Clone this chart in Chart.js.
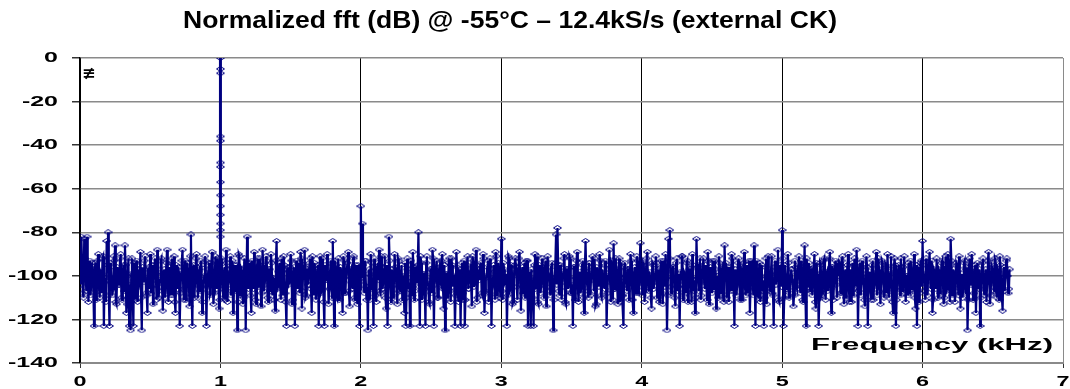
<!DOCTYPE html>
<html>
<head>
<meta charset="utf-8">
<script src="https://cdn.jsdelivr.net/npm/chart.js@4.4.0/dist/chart.umd.min.js"></script>
<style>
  body { margin: 0; background: #fff; }
  canvas { display: block; }
</style>
</head>
<body>
<canvas id="fftChart" width="1070" height="389"></canvas>
<script>
// FFT normalisé à -55°C, 12.4kS/s, horloge externe

const chartTitle = 'Normalized fft (dB) @ -55°C – 12.4kS/s (external CK)';
const xAxisLabel = 'Frequency (kHz)';

// pas des bins (kHz) du spectre de bruit
const binKHz = 0.01;

// niveau de chaque bin (dB)
const noiseDb = [
  -95, -82, -108, -83, -100, -82, -112, -93, -104, -97,
  -123, -94, -106, -90, -110, -99, -92, -123, -101, -84,
  -80, -123, -96, -109, -91, -86, -113, -98, -104, -90,
  -111, -95, -86, -117, -100, -123, -125, -92, -123, -102,
  -94, -112, -97, -89, -125, -101, -93, -108, -117, -96,
  -90, -105, -113, -95, -99, -88, -110, -102, -92, -116,
  -97, -107, -88, -112, -100, -94, -109, -91, -117, -103,
  -96, -123, -99, -88, -111, -93, -106, -98, -114, -81,
  -123, -95, -102, -90, -110, -97, -93, -117, -104, -91,
  -123, -100, -94, -108, -89, -113, -98, -104, -92, -115,
  -101, -93, -110, -96, -88, -112, -99, -91, -107, -117,
  -95, -103, -125, -90, -109, -97, -113, -92, -125, -82,
  -106, -94, -117, -99, -89, -111, -96, -104, -92, -114,
  -88, -107, -100, -93, -112, -97, -90, -109, -102, -116,
  -84, -105, -94, -111, -98, -91, -108, -123, -96, -103,
  -90, -113, -99, -123, -93, -106, -101, -89, -115, -95,
  -88, -109, -97, -104, -92, -117, -100, -94, -111, -98,
  -123, -91, -107, -96, -123, -102, -90, -113, -99, -105,
  -84, -123, -95, -110, -92, -104, -98, -117, -93, -108,
  -100, -89, -114, -97, -106, -91, -111, -99, -95, -123,
  -68, -76, -104, -93, -111, -125, -97, -90, -106, -123,
  -99, -112, -94, -88, -108, -96, -102, -91, -115, -123,
  -82, -105, -97, -110, -90, -101, -113, -93, -107, -95,
  -100, -117, -123, -92, -106, -123, -98, -89, -111, -96,
  -103, -80, -123, -94, -109, -99, -123, -91, -105, -113,
  -97, -88, -123, -101, -93, -110, -96, -104, -90, -115,
  -125, -99, -107, -92, -112, -95, -102, -123, -89, -108,
  -98, -123, -94, -111, -123, -100, -91, -106, -97, -114,
  -93, -103, -88, -110, -99, -95, -108, -90, -117, -101,
  -96, -112, -92, -123, -104, -98, -89, -109, -94, -106,
  -83, -111, -97, -102, -123, -91, -107, -95, -113, -100,
  -92, -105, -99, -89, -116, -96, -103, -110, -93, -123,
  -98, -123, -106, -123, -90, -101, -112, -95, -108, -92,
  -104, -97, -114, -91, -100, -109, -94, -125, -102, -81,
  -78, -107, -95, -111, -99, -90, -113, -97, -104, -92,
  -108, -123, -96, -101, -89, -112, -98, -105, -93, -117,
  -84, -103, -110, -94, -99, -91, -107, -114, -96, -102,
  -90, -109, -97, -104, -93, -123, -100, -88, -112, -95,
  -85, -106, -98, -113, -92, -101, -109, -123, -94, -104,
  -97, -111, -90, -103, -117, -96, -108, -93, -100, -85,
  -105, -94, -112, -98, -89, -107, -101, -115, -95, -103,
  -91, -110, -97, -106, -93, -113, -99, -90, -125, -83,
  -79, -108, -96, -102, -114, -92, -105, -123, -98, -91,
  -109, -100, -94, -112, -97, -104, -90, -107, -117, -83,
  -101, -95, -111, -98, -92, -106, -103, -89, -113, -96,
  -108, -99, -93, -115, -100, -91, -105, -97, -110, -86,
  -94, -102, -112, -96, -90, -107, -123, -99, -104, -92,
  -111, -97, -101, -89, -109, -95, -106, -117, -93, -103,
  -86, -123, -98, -110, -94, -100, -107, -123, -96, -113,
  -91, -104, -99, -108, -123, -93, -101, -88, -112, -97,
  -79, -123, -95, -106, -90, -110, -102, -97, -114, -93,
  -105, -99, -91, -108, -96, -112, -86, -123, -100, -94,
  -107, -97, -103, -90, -115, -99, -123, -94, -109, -101,
  -92, -111, -98, -105, -89, -117, -96, -102, -93, -110,
  -100, -95, -108, -91, -113, -97, -104, -90, -112, -99,
  -94, -106, -101, -88, -123, -96, -109, -93, -103, -114,
  -91, -123, -98, -107, -95, -111, -100, -89, -105, -97,
  -113, -93, -102, -108, -96, -90, -110, -99, -104, -117,
  -92, -123, -101, -95, -109, -98, -106, -91, -112, -100,
  -94, -107, -97, -103, -90, -115, -123, -96, -108, -93,
  -84, -102, -111, -95, -99, -89, -106, -117, -97, -104,
  -92, -110, -98, -101, -93, -113, -96, -107, -90, -103,
  -83, -109, -97, -112, -94, -100, -91, -115, -99, -105,
  -93, -108, -125, -96, -102, -90, -111, -98, -117, -94,
  -106, -123, -100, -92, -109, -97, -103, -89, -113, -95,
  -101, -107, -93, -110, -98, -91, -104, -116, -96, -100,
  -92, -108, -97
];

// bins intermédiaires (entre deux bins de noiseDb), dB
const noiseMidDb = [
  -104, -96, -110, -92, -107, -95, -100, -109, -94, -106,
  -97, -111, -93, -105, -98, -108, -91, -103, -112, -95,
  -109, -94, -101, -106, -93, -112, -96, -104, -92, -110,
  -98, -107, -95, -113, -92, -104, -99, -108, -94, -111,
  -93, -105, -100, -110, -96, -103, -91, -109, -97, -106,
  -108, -95, -102, -92, -111, -97, -105, -93, -107, -99,
  -110, -94, -104, -96, -109, -92, -101, -112, -95, -106,
  -99, -108, -93, -106, -97, -111, -94, -103, -91, -109,
  -96, -110, -92, -104, -98, -107, -95, -112, -100, -93,
  -105, -97, -109, -94, -102, -108, -91, -106, -96, -111,
  -92, -106, -99, -111, -94, -103, -97, -109, -93, -105,
  -107, -95, -112, -91, -104, -98, -110, -96, -102, -94,
  -100, -109, -93, -106, -96, -113, -92, -105, -99, -108,
  -95, -104, -91, -110, -97, -107, -94, -101, -111, -93,
  -106, -98, -103, -92, -109, -95, -112, -97, -104, -96,
  -93, -111, -96, -105, -100, -94, -108, -92, -107, -99,
  -110, -97, -104, -94, -106, -91, -109, -98, -103, -95,
  -96, -108, -92, -112, -95, -102, -99, -106, -93, -110,
  -104, -93, -109, -97, -111, -96, -105, -91, -108, -100,
  -94, -107, -98, -103, -92, -110, -95, -113, -97, -106,
  -101, -95, -108, -93, -105, -99, -111, -94, -104, -92,
  -109, -96, -102, -107, -91, -106, -97, -110, -95, -103,
  -93, -112, -99, -104, -96, -108, -92, -105, -100, -111,
  -106, -94, -110, -97, -103, -93, -109, -96, -107, -98,
  -95, -105, -91, -111, -99, -106, -94, -102, -112, -97,
  -108, -92, -104, -96, -110, -98, -103, -93, -106, -95,
  -99, -110, -94, -107, -92, -105, -101, -109, -96, -112,
  -97, -103, -108, -93, -111, -95, -106, -99, -104, -91,
  -105, -96, -112, -98, -102, -94, -109, -92, -107, -100,
  -93, -108, -97, -105, -95, -111, -91, -104, -98, -110,
  -107, -94, -103, -99, -109, -92, -106, -97, -112, -95,
  -96, -111, -92, -104, -100, -108, -94, -105, -93, -109,
  -102, -97, -110, -95, -106, -91, -113, -98, -103, -96,
  -110, -93, -105, -98, -107, -96, -101, -111, -94, -104,
  -95, -109, -99, -103, -92, -112, -97, -106, -91, -108,
  -104, -96, -111, -93, -105, -100, -108, -95, -110, -97,
  -98, -107, -94, -109, -96, -102, -92, -113, -99, -105,
  -93, -110, -101, -106, -95, -108, -97, -103, -94, -111,
  -106, -92, -104, -97, -112, -94, -109, -96, -100, -107,
  -97, -105, -93, -111, -99, -106, -91, -108, -95, -103,
  -109, -95, -107, -92, -104, -98, -110, -94, -106, -99,
  -94, -103, -112, -96, -108, -93, -105, -101, -109, -92,
  -105, -98, -96, -110, -94, -107, -99, -104, -91, -111,
  -99, -108, -93, -106, -97, -112, -95, -102, -110, -96,
  -107, -92, -109, -98, -103, -95, -111, -93, -105, -100,
  -93, -106, -97, -104, -110, -94, -108, -96, -112, -98,
  -110, -96, -101, -107, -92, -105, -97, -109, -94, -103,
  -96, -111, -94, -105, -99, -108, -93, -106, -100, -109,
  -104, -93, -108, -97, -112, -95, -102, -110, -92, -106,
  -98, -107, -91, -109, -96, -104, -99, -111, -95, -105,
  -92, -110, -100, -106, -94, -108, -97, -103, -109, -96,
  -106, -95, -104, -93, -111, -98, -107, -92, -105, -101,
  -97, -109, -96, -112, -94, -103, -110, -95, -108, -93,
  -105, -99, -107, -92, -106, -96, -111, -98, -104, -94,
  -94, -108, -93, -104, -100, -110, -95, -106, -97, -112,
  -109, -92, -105, -98, -107, -94, -103, -96, -111, -99,
  -96, -106, -101, -111, -93, -104, -97, -109, -92, -107,
  -103, -94, -110, -95, -108, -99, -106, -91, -112, -97,
  -95, -111, -98, -105, -92, -107, -96, -104, -100, -109,
  -108, -93, -106, -97, -110, -95, -103, -112, -94, -105,
  -99, -107, -92, -109, -96, -104, -93, -111, -98, -106,
  -104, -97, -108, -94, -103, -110, -91, -106, -96, -112,
  -93, -105, -99, -107, -95, -109, -97, -102, -110, -94,
  -107, -96, -111, -92, -104, -98, -108, -95, -105, -100,
  -97, -110, -94, -106, -99, -112, -93, -103, -109, -96,
  -105, -92, -108, -97, -111, -95, -104, -98, -107, -93,
  -100, -106
];

// raie du signal à 1 kHz (bins serrés autour de la porteuse)
const carrierKHz = [0.9993, 0.9994, 0.9995, 0.9996, 0.9997, 0.9998, 0.9999, 1.0000,
                    1.0001, 1.0002, 1.0003, 1.0004, 1.0005, 1.0006, 1.0007, 1.0008];
const carrierDb = [-101, -82, -79, -72, -63, -50, -36, 0,
                   -5, -7, -38, -48, -57, -68, -76, -98];

const yTicks = [0, -20, -40, -60, -80, -100, -120, -140];
const xTicks = [0, 1, 2, 3, 4, 5, 6, 7];

const navy = '#000080';

// losange creux un peu aplati, comme les marqueurs d'Excel
const marker = document.createElement('canvas');
marker.width = 9;
marker.height = 6;
(function () {
  const m = marker.getContext('2d');
  m.strokeStyle = navy;
  m.lineWidth = 1;
  m.beginPath();
  m.moveTo(0.5, 3);
  m.lineTo(4.5, 0.5);
  m.lineTo(8.5, 3);
  m.lineTo(4.5, 5.5);
  m.closePath();
  m.stroke();
})();

// on entrelace bins entiers et demi-bins
const noisePoints = [];
noiseDb.forEach((v, i) => {
  noisePoints.push({ x: i * binKHz, y: v });
  if (i < noiseMidDb.length) noisePoints.push({ x: (i + 0.5) * binKHz, y: noiseMidDb[i] });
});
const carrierPoints = carrierDb.map((v, i) => ({ x: carrierKHz[i], y: v }));

function stretchText(ctx, text, x, y, align, sx) {
  ctx.save();
  ctx.translate(x, y);
  ctx.scale(sx, 1);
  ctx.textAlign = align;
  ctx.textBaseline = 'middle';
  ctx.fillText(text, 0, 0);
  ctx.restore();
}

// textes dessinés à la main (étiquettes étirées comme sur l'original)
const textPlugin = {
  id: 'texts',
  afterDraw(chart) {
    const ctx = chart.ctx;
    const xs = chart.scales.x;
    const ys = chart.scales.y;
    ctx.save();
    ctx.fillStyle = '#000';

    ctx.font = 'bold 23px "Liberation Sans", Arial, sans-serif';
    stretchText(ctx, chartTitle, 510, 22, 'center', 654 / ctx.measureText(chartTitle).width);

    ctx.font = 'bold 15px "Liberation Sans", Arial, sans-serif';
    const sy = 50 / ctx.measureText('-100').width;
    const sx = 13 / ctx.measureText('0').width;
    yTicks.forEach(v => stretchText(ctx, String(v), 58, ys.getPixelForValue(v), 'right', sy));
    xTicks.forEach(v => stretchText(ctx, String(v), xs.getPixelForValue(v), 382, 'center', sx));

    ctx.font = 'bold 16px "Liberation Sans", Arial, sans-serif';
    stretchText(ctx, xAxisLabel, 1053, 346, 'right', 242 / ctx.measureText(xAxisLabel).width);

    // reste de légende écrasée, en haut à gauche
    ctx.font = 'bold 15px "DejaVu Sans", sans-serif';
    stretchText(ctx, '≢', 89, 74, 'center', 1.1);
    ctx.restore();
  }
};

new Chart(document.getElementById('fftChart').getContext('2d'), {
  type: 'line',
  data: {
    datasets: [
      {
        label: 'fft',
        data: noisePoints,
        borderColor: navy,
        borderWidth: 2.2,
        pointStyle: marker,
        pointRadius: 3,
        pointHoverRadius: 3,
        tension: 0
      },
      {
        label: 'carrier',
        data: carrierPoints,
        borderColor: navy,
        borderWidth: 3,
        pointStyle: marker,
        pointRadius: 3,
        tension: 0
      }
    ]
  },
  options: {
    responsive: false,
    animation: false,
    layout: { padding: { top: 58, right: 4, left: 0, bottom: 0 } },
    plugins: {
      legend: { display: false },
      title: { display: false },
      tooltip: { enabled: false }
    },
    scales: {
      x: {
        type: 'linear',
        min: 0,
        max: 7,
        ticks: { display: false, stepSize: 1 },
        grid: {
          color: c => (c.tick && c.tick.value === 7 ? '#8a8a8a' : '#000'),
          lineWidth: 1,
          tickLength: 5,
          tickColor: '#333'
        },
        border: { color: '#8a8a8a', width: 1 },
        afterFit(scale) {
          scale.height = 26;
          scale.paddingLeft = 0;
          scale.paddingRight = 0;
        }
      },
      y: {
        min: -140,
        max: 0,
        ticks: { display: false, stepSize: 20 },
        grid: {
          color: '#8a8a8a',
          lineWidth: 1.5,
          tickLength: 8,
          tickColor: '#333'
        },
        border: { color: '#000', width: 1.5 },
        afterFit(scale) {
          scale.width = 80;
          scale.paddingTop = 0;
          scale.paddingBottom = 0;
        }
      }
    }
  },
  plugins: [textPlugin]
});
</script>
</body>
</html>
